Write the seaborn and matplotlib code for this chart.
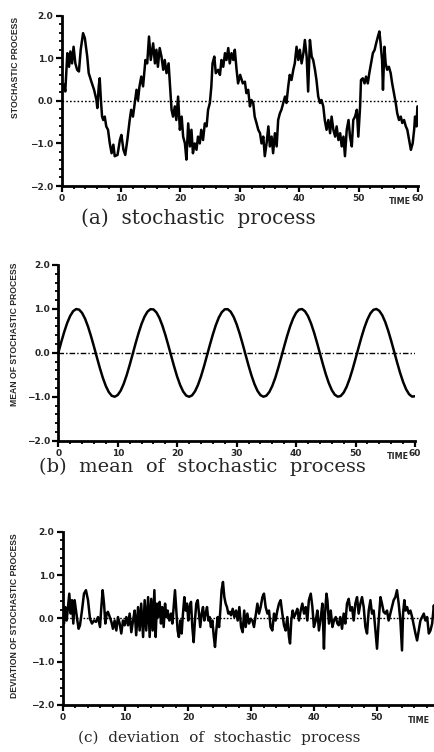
import numpy as np
import pandas as pd
import matplotlib
matplotlib.use("Agg")
import matplotlib.pyplot as plt
import seaborn as sns
from matplotlib.ticker import FixedLocator, FixedFormatter, MultipleLocator

# ---------------- data ----------------
time_a = [0.05, 0.4, 0.6, 0.95, 1.24, 1.46, 1.74, 2.0, 2.3, 2.6,
          2.9, 3.2, 3.6, 3.9, 4.3, 4.55, 5.0, 5.45, 5.85, 6.0,
          6.24, 6.4, 6.6, 6.8, 7.0, 7.25, 7.5, 7.8, 8.1, 8.4,
          8.7, 8.93, 9.4, 9.8, 10.05, 10.4, 10.7, 11.05, 11.45, 11.7,
          12.0, 12.3, 12.6, 12.85, 13.1, 13.4, 13.7, 14.1, 14.4, 14.7,
          15.0, 15.4, 15.7, 15.95, 16.2, 16.5, 16.8, 17.1, 17.35, 17.65,
          18.0, 18.25, 18.5, 18.75, 19.05, 19.3, 19.6, 19.9, 20.2, 20.45,
          20.75, 21.0, 21.3, 21.6, 21.85, 22.1, 22.4, 22.7, 22.95, 23.25,
          23.5, 23.8, 24.1, 24.4, 24.65, 24.95, 25.2, 25.4, 25.7, 25.95,
          26.35, 26.65, 26.9, 27.2, 27.5, 27.75, 28.05, 28.3, 28.6, 28.9,
          29.15, 29.45, 29.7, 30.05, 30.5, 30.85, 31.1, 31.4, 31.7, 31.95,
          32.25, 32.5, 32.8, 33.1, 33.4, 33.65, 33.95, 34.2, 34.5, 34.8,
          35.05, 35.35, 35.6, 35.9, 36.2, 36.45, 36.75, 37.0, 37.3, 37.6,
          37.85, 38.15, 38.4, 38.7, 39.0, 39.25, 39.55, 39.85, 40.1, 40.4,
          40.7, 40.95, 41.25, 41.5, 41.8, 42.1, 42.35, 42.65, 42.9, 43.2,
          43.5, 43.75, 44.05, 44.3, 44.6, 44.9, 45.2, 45.45, 45.75, 46.05,
          46.3, 46.6, 46.9, 47.15, 47.45, 47.7, 48.0, 48.3, 48.55, 48.85,
          49.1, 49.4, 49.7, 49.95, 50.25, 50.4, 50.7, 51.0, 51.25, 51.55,
          51.8, 52.1, 52.4, 52.7, 52.95, 53.25, 53.5, 53.7, 53.95, 54.1,
          54.35, 54.55, 54.8, 55.1, 55.4, 55.65, 55.95, 56.25, 56.5, 56.8,
          57.1, 57.35, 57.65, 57.95, 58.2, 58.5, 58.8, 59.1, 59.35, 59.5,
          59.75, 59.9]
process_a = [0.22, 0.38, 0.22, 1.12, 0.80, 1.16, 0.88, 1.27, 0.88, 0.73,
             0.69, 1.20, 1.59, 1.47, 1.04, 0.65, 0.45, 0.26, 0.02, -0.17,
             0.34, 0.53, 0.02, -0.37, -0.45, -0.37, -0.60, -0.68, -1.00, -1.23,
             -1.03, -1.30, -1.27, -0.92, -0.80, -1.15, -1.27, -0.92, -0.45, -0.21,
             -0.37, -0.05, 0.26, 0.02, 0.34, 0.57, 0.34, 0.96, 0.88, 1.51,
             0.96, 1.35, 0.88, 1.20, 0.80, 1.24, 1.04, 0.73, 0.96, 0.65,
             0.88, 0.34, -0.21, -0.37, -0.13, -0.45, 0.10, -0.68, -0.37, -0.84,
             -1.00, -1.38, -0.53, -1.07, -0.68, -1.23, -1.00, -1.15, -0.84, -1.00,
             -0.68, -0.92, -0.53, -0.60, -0.21, -0.05, 0.34, 0.88, 1.04, 0.65,
             0.73, 0.61, 0.96, 0.80, 1.12, 0.96, 1.24, 0.88, 1.12, 0.96,
             1.20, 0.73, 0.41, 0.61, 0.41, 0.45, 0.18, 0.26, -0.13, 0.02,
             -0.05, -0.37, -0.52, -0.68, -0.76, -1.00, -0.84, -1.30, -1.00, -0.60,
             -1.07, -0.84, -1.23, -0.76, -1.07, -0.45, -0.29, -0.21, -0.05, 0.10,
             -0.05, 0.34, 0.61, 0.49, 0.73, 0.88, 1.27, 0.96, 1.20, 0.88,
             1.12, 1.43, 1.04, 0.22, 1.43, 1.04, 0.96, 0.73, 0.49, 0.10,
             -0.05, 0.02, -0.13, -0.45, -0.68, -0.45, -0.76, -0.37, -0.68, -0.84,
             -0.60, -0.92, -0.76, -1.07, -0.84, -1.30, -0.68, -0.45, -0.84, -1.07,
             -0.45, -0.37, -0.21, -0.84, -0.13, 0.49, 0.53, 0.41, 0.57, 0.41,
             0.65, 0.88, 1.12, 1.20, 1.35, 1.51, 1.63, 1.35, 0.96, 0.26,
             1.27, 0.88, 0.73, 0.80, 0.65, 0.41, 0.18, -0.05, -0.29, -0.45,
             -0.37, -0.52, -0.45, -0.60, -0.68, -0.92, -1.15, -1.00, -0.68, -0.37,
             -0.60, -0.13]

time_b = [0, 0.5, 1, 1.5, 2, 2.5, 3, 3.5, 4, 4.5,
          5, 5.5, 6, 6.5, 7, 7.5, 8, 8.5, 9, 9.5,
          10, 10.5, 11, 11.5, 12, 12.5, 13, 13.5, 14, 14.5,
          15, 15.5, 16, 16.5, 17, 17.5, 18, 18.5, 19, 19.5,
          20, 20.5, 21, 21.5, 22, 22.5, 23, 23.5, 24, 24.5,
          25, 25.5, 26, 26.5, 27, 27.5, 28, 28.5, 29, 29.5,
          30, 30.5, 31, 31.5, 32, 32.5, 33, 33.5, 34, 34.5,
          35, 35.5, 36, 36.5, 37, 37.5, 38, 38.5, 39, 39.5,
          40, 40.5, 41, 41.5, 42, 42.5, 43, 43.5, 44, 44.5,
          45, 45.5, 46, 46.5, 47, 47.5, 48, 48.5, 49, 49.5,
          50, 50.5, 51, 51.5, 52, 52.5, 53, 53.5, 54, 54.5,
          55, 55.5, 56, 56.5, 57, 57.5, 58, 58.5, 59, 59.5,
          60]
mean_b = [0.0, 0.247, 0.479, 0.682, 0.841, 0.949, 0.997, 0.984, 0.909, 0.778,
          0.598, 0.381, 0.141, -0.108, -0.351, -0.572, -0.757, -0.895, -0.978, -0.999,
          -0.959, -0.859, -0.706, -0.508, -0.279, -0.033, 0.215, 0.450, 0.657, 0.823,
          0.938, 0.994, 0.989, 0.922, 0.798, 0.624, 0.412, 0.174, -0.075, -0.319,
          -0.544, -0.734, -0.880, -0.971, -1.0, -0.968, -0.875, -0.729, -0.537, -0.311,
          -0.066, 0.183, 0.420, 0.632, 0.804, 0.926, 0.991, 0.994, 0.935, 0.818,
          0.650, 0.442, 0.206, -0.043, -0.289, -0.517, -0.712, -0.864, -0.962, -0.999,
          -0.975, -0.890, -0.752, -0.567, -0.342, -0.099, 0.150, 0.389, 0.605, 0.783,
          0.913, 0.985, 0.997, 0.946, 0.837, 0.675, 0.472, 0.239, -0.008, -0.256,
          -0.488, -0.688, -0.846, -0.952, -0.998, -0.982, -0.905, -0.773, -0.592, -0.374,
          -0.132, 0.117, 0.359, 0.579, 0.762, 0.899, 0.979, 0.999, 0.956, 0.855,
          0.700, 0.501, 0.271, 0.024, -0.223, -0.458, -0.663, -0.828, -0.941, -0.996,
          -0.988]

time_c = [0.0, 0.2, 0.42, 0.63, 0.84, 1.05, 1.27, 1.48, 1.69, 1.9,
          2.12, 2.33, 2.54, 2.75, 3.07, 3.39, 3.7, 4.03, 4.35, 4.66,
          4.98, 5.3, 5.62, 5.94, 6.15, 6.36, 6.58, 6.79, 7.0, 7.2,
          7.5, 7.75, 8.0, 8.27, 8.54, 8.8, 9.07, 9.33, 9.6, 9.87,
          10.13, 10.4, 10.66, 10.93, 11.2, 11.46, 11.7, 12.0, 12.25, 12.5,
          12.8, 13.05, 13.3, 13.6, 13.85, 14.1, 14.33, 14.6, 14.8, 15.0,
          15.2, 15.44, 15.65, 15.86, 16.08, 16.3, 16.5, 16.7, 16.98, 17.25,
          17.46, 17.67, 17.88, 18.1, 18.3, 18.5, 18.73, 18.94, 19.15, 19.37,
          19.58, 19.8, 20.0, 20.2, 20.43, 20.64, 20.85, 21.06, 21.27, 21.5,
          21.7, 21.9, 22.13, 22.34, 22.55, 22.76, 22.98, 23.2, 23.4, 23.6,
          23.83, 24.04, 24.25, 24.46, 24.68, 24.9, 25.1, 25.3, 25.52, 25.74,
          25.95, 26.16, 26.37, 26.6, 26.8, 27.07, 27.33, 27.6, 27.86, 28.13,
          28.4, 28.66, 28.9, 29.14, 29.4, 29.67, 29.93, 30.2, 30.46, 30.73,
          31.0, 31.26, 31.52, 31.8, 32.05, 32.32, 32.6, 32.85, 33.1, 33.38,
          33.65, 33.9, 34.18, 34.44, 34.7, 34.97, 35.24, 35.5, 35.77, 36.03,
          36.2, 36.4, 36.62, 36.83, 37.1, 37.36, 37.63, 37.9, 38.16, 38.43,
          38.7, 38.95, 39.2, 39.5, 39.76, 40.0, 40.3, 40.55, 40.8, 41.1,
          41.35, 41.6, 41.77, 42.0, 42.15, 42.4, 42.68, 42.95, 43.2, 43.48,
          43.74, 43.95, 44.2, 44.48, 44.74, 45.0, 45.27, 45.54, 45.8, 46.07,
          46.33, 46.6, 46.87, 47.13, 47.4, 47.66, 47.93, 48.2, 48.46, 48.73,
          49.0, 49.25, 49.52, 49.8, 50.05, 50.32, 50.6, 50.84, 51.1, 51.37,
          51.64, 51.9, 52.17, 52.43, 52.7, 52.97, 53.23, 53.5, 53.77, 54.03,
          54.2, 54.4, 54.6, 54.84, 55.1, 55.37, 55.64, 55.9, 56.17, 56.43,
          56.7, 56.96, 57.23, 57.5, 57.76, 58.03, 58.3, 58.56, 58.83, 59.1,
          59.4, 59.7]
deviation_c = [0.11, -0.12, 0.26, -0.05, 0.26, 0.57, 0.11, 0.42, -0.12, 0.42,
               0.18, -0.05, -0.24, -0.16, 0.18, 0.57, 0.65, 0.42, -0.01, -0.12,
               -0.05, -0.08, 0.03, -0.20, 0.26, 0.65, 0.34, -0.12, 0.11, 0.15,
               0.03, -0.08, -0.24, -0.05, -0.28, 0.03, -0.12, -0.35, -0.05, -0.16,
               0.03, -0.16, 0.11, -0.32, -0.05, 0.18, -0.39, 0.26, -0.28, 0.34,
               -0.43, 0.42, -0.28, 0.49, -0.43, 0.45, -0.28, 0.65, -0.43, 0.34,
               0.03, 0.38, -0.12, 0.26, -0.20, 0.34, 0.03, 0.18, -0.05, 0.11,
               -0.12, 0.26, 0.65, 0.18, -0.28, -0.43, -0.05, -0.35, 0.11, 0.49,
               0.18, 0.34, -0.05, 0.26, 0.38, -0.20, -0.55, -0.05, 0.34, 0.42,
               0.11, -0.20, 0.11, 0.26, -0.05, 0.11, 0.26, -0.05, 0.03, -0.20,
               -0.05, -0.39, -0.66, -0.28, 0.03, -0.20, 0.18, 0.65, 0.84, 0.49,
               0.34, 0.26, 0.11, 0.15, 0.07, 0.22, 0.03, 0.18, -0.05, 0.26,
               -0.20, -0.32, 0.18, -0.20, 0.11, -0.12, -0.01, -0.05, -0.20, 0.07,
               0.34, 0.11, 0.26, 0.49, 0.57, 0.26, 0.11, 0.18, -0.20, -0.28,
               0.11, -0.05, 0.18, 0.34, 0.42, 0.11, -0.16, -0.28, 0.03, -0.43,
               -0.58, -0.05, 0.18, 0.03, 0.11, 0.22, -0.05, 0.18, 0.34, 0.11,
               0.26, -0.05, 0.42, 0.57, 0.26, -0.20, -0.05, 0.18, -0.28, 0.03,
               0.34, -0.70, 0.11, 0.57, 0.42, -0.12, 0.18, -0.20, -0.05, 0.03,
               -0.12, -0.16, 0.03, -0.24, 0.11, -0.12, 0.34, 0.45, 0.18, 0.26,
               -0.05, 0.34, 0.49, 0.11, 0.34, 0.49, 0.26, -0.20, -0.35, 0.18,
               0.42, 0.11, 0.18, -0.28, -0.70, -0.05, 0.49, 0.34, 0.15, 0.11,
               0.18, -0.05, 0.11, 0.26, 0.42, 0.49, 0.65, 0.34, -0.05, -0.74,
               0.11, 0.42, 0.18, 0.26, 0.11, 0.18, 0.03, -0.16, -0.35, -0.51,
               -0.28, -0.05, 0.03, 0.11, -0.05, 0.03, -0.35, -0.28, -0.12, 0.30,
               -0.10, 0.05]

x_ticks = [0, 10, 20, 30, 40, 50, 60]
x_tick_labels = ["0", "10", "20", "30", "40", "50", "60"]
y_ticks = [-2.0, -1.0, 0.0, 1.0, 2.0]
y_tick_labels = ["\u22122.0", "\u22121.0", "0.0", "1.0", "2.0"]
y_labels = ["STOCHASTIC PROCESS", "MEAN OF STOCHASTIC PROCESS",
            "DEVIATION OF STOCHASTIC PROCESS"]
captions = ["(a)  stochastic  process", "(b)  mean  of  stochastic  process",
            "(c)  deviation  of  stochastic  process"]
x_label = "TIME"

# ---------------- figure ----------------
sns.set_style("ticks")
W, H = 435, 752
fig = plt.figure(figsize=(W / 100, H / 100), dpi=100)
fig.patch.set_facecolor("white")

def px_axes(left, right, top, bottom):
    return fig.add_axes([left / W, 1 - bottom / H, (right - left) / W, (bottom - top) / H])

panels = [
    dict(ax=px_axes(61.7, 418.0, 15.7, 186.0), x=time_a, y=process_a, zls=(0, (1.2, 1.5)),
         ylab_x=16, ylab_top=17, time_x=411, time_y=197, cap_x=198, cap_y=218, cap_size=14.5),
    dict(ax=px_axes(58.3, 415.0, 265.0, 440.7), x=time_b, y=mean_b, zls=(0, (4, 1.5, 1, 1.5)),
         ylab_x=15, ylab_top=263, time_x=409, time_y=452, cap_x=202, cap_y=467, cap_size=14.0),
    dict(ax=px_axes(62.7, 439.5, 531.7, 705.0), x=time_c, y=deviation_c, zls=(0, (1.2, 1.2)),
         ylab_x=15, ylab_top=533, time_x=430, time_y=716, cap_x=219, cap_y=738, cap_size=11.0),
]

for i, p in enumerate(panels):
    ax = p["ax"]
    df = pd.DataFrame({"time": p["x"], "value": p["y"]})
    ax.axhline(0, color="black", lw=1.0, ls=p["zls"], zorder=1)
    sns.lineplot(data=df, x="time", y="value", ax=ax, color="black", lw=1.8,
                 estimator=None, sort=False, zorder=3)
    ax.set_xlim(0, 60)
    ax.set_ylim(-2, 2)
    ax.set_xlabel("")
    ax.set_ylabel("")
    for s in ["top", "right"]:
        ax.spines[s].set_visible(False)
    for s in ["left", "bottom"]:
        ax.spines[s].set_linewidth(2.0)
        ax.spines[s].set_color("black")
    ax.xaxis.set_major_locator(FixedLocator(x_ticks))
    ax.xaxis.set_major_formatter(FixedFormatter(x_tick_labels))
    ax.yaxis.set_major_locator(FixedLocator(y_ticks))
    ax.yaxis.set_major_formatter(FixedFormatter(y_tick_labels))
    ax.xaxis.set_minor_locator(MultipleLocator(2))
    ax.yaxis.set_minor_locator(MultipleLocator(0.2))
    ax.tick_params(which="major", direction="out", length=4, width=1.6, color="black",
                   labelsize=6.5, pad=2)
    ax.tick_params(which="minor", direction="out", length=2.5, width=1.3, color="black")
    for lab in ax.get_xticklabels() + ax.get_yticklabels():
        lab.set_fontweight("bold")
    ax.set_facecolor("white")
    ax.grid(False)

    fig.text(p["ylab_x"] / W, 1 - p["ylab_top"] / H, y_labels[i], rotation=90,
             ha="center", va="top", fontsize=6.2, fontweight="bold",
             family="Liberation Sans")
    fig.text(p["time_x"] / W, 1 - p["time_y"] / H, x_label, ha="right", va="top",
             fontsize=5.8, fontweight="bold")
    fig.text(p["cap_x"] / W, 1 - p["cap_y"] / H, captions[i], ha="center", va="center",
             fontsize=p["cap_size"], family="DejaVu Serif")

fig.savefig("out.png", dpi=100, facecolor="white")
